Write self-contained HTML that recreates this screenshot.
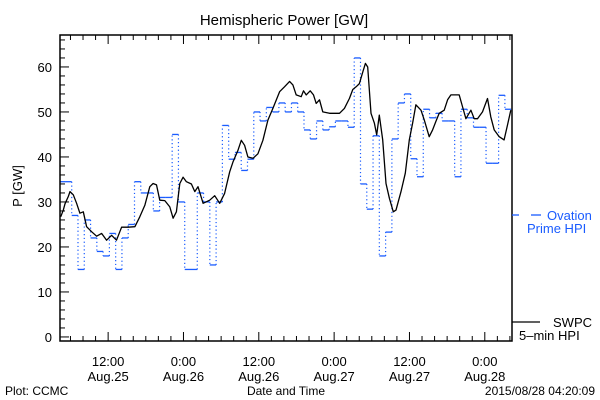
<!DOCTYPE html>
<html><head><meta charset="utf-8"><style>
html,body{margin:0;padding:0;background:#fff;}
svg{display:block;font-family:"Liberation Sans",sans-serif;}
</style></head><body>
<svg id="chart" width="600" height="400" viewBox="0 0 600 400" xmlns="http://www.w3.org/2000/svg">
<rect x="0" y="0" width="600" height="400" fill="#fff"/>
<text x="284" y="25" font-size="15" text-anchor="middle" fill="#000">Hemispheric Power [GW]</text>
<text x="0" y="0" font-size="13" text-anchor="middle" transform="translate(22,186) rotate(-90)">P [GW]</text>
<g id="ticks"></g>
<g id="series"></g>
<rect x="60" y="35" width="452" height="306" fill="none" stroke="#000" stroke-width="1.5"/>
<g>
<line x1="512" y1="215" x2="519" y2="215" stroke="#1a5cff" stroke-width="1.3"/>
<line x1="531" y1="215" x2="541" y2="215" stroke="#1a5cff" stroke-width="1.3"/>
<text x="547" y="220" font-size="13" fill="#1a5cff">Ovation</text>
<text x="527" y="233" font-size="13" fill="#1a5cff">Prime HPI</text>
</g>
<g>
<line x1="512" y1="322" x2="540" y2="322" stroke="#000" stroke-width="1.3"/>
<text x="553" y="327" font-size="13" fill="#000">SWPC</text>
<text x="519" y="340" font-size="13" fill="#000">5–min HPI</text>
</g>
<text x="5" y="395" font-size="12">Plot: CCMC</text>
<text x="286" y="395" font-size="12" text-anchor="middle">Date and Time</text>
<text x="595" y="395" font-size="12" text-anchor="end">2015/08/28 04:20:09</text>
</svg>
<script>
// hours since 2015-08-25 00:00
const xMin = 4.333, xMax = 76.333;
const yMin = -0.9, yMax = 67.1;
const yTicks = [0,10,20,30,40,50,60];
const xTickHours = [12,24,36,48,60,72];
const xTickTimes = ["12:00","0:00","12:00","0:00","12:00","0:00"];
const xTickDates = ["Aug.25","Aug.26","Aug.26","Aug.27","Aug.27","Aug.28"];
const ovationStart = 4.2;
const ovationValues = [34.5,34.5,27,15,26,22,19,18,23,15,22,25,34.5,32,32,28,31,31,45,30,15,15,32,30,16,30,47,39.5,41,37,39.5,50,48,51,50,52,50,52,50,46,44,48,46,46.7,48,48,46.6,62,34,28.4,44.7,18,23.3,44,52,54,39.6,35.6,50.6,48.7,49.7,48,48,35.6,50.6,48.7,46.6,46.6,38.6,38.6,53.7,50.6];
const swpcHours = [4.44,4.86,5.13,5.66,5.92,6.45,6.98,7.51,8.04,8.57,9.37,10.16,10.96,11.75,12.55,13.34,14.14,15.2,16.26,17.05,17.85,18.64,19.17,19.7,20.23,21.03,21.82,22.35,22.88,23.41,23.94,24.47,25.27,25.8,26.32,27.12,28.18,28.98,29.77,30.56,31.36,31.89,32.68,33.21,33.74,34.27,35.07,35.86,36.66,37.45,38.25,39.31,40.1,40.9,41.43,41.96,42.75,43.12,43.55,44.18,44.71,45.14,45.67,46.2,47.26,48.85,49.64,50.44,50.97,51.5,52.03,52.56,52.98,53.35,53.88,54.41,54.78,55.2,55.74,56.27,56.8,57.43,57.86,58.65,59.34,59.97,60.5,61.03,61.83,62.36,63.15,63.68,64.21,64.74,65.54,66.07,66.6,67.92,68.46,68.99,69.78,70.31,70.84,71.64,72.43,72.96,73.49,74.29,75.08,75.61,76.14];
const swpcValues = [26.7,28.2,29.6,31.2,32.3,31.6,29.7,27.5,27.8,24.5,23.4,22.4,23.0,21.5,22.6,21.5,24.4,24.4,24.5,26.7,29.3,33.4,34.1,33.8,30.4,30.3,28.9,26.4,27.8,34.1,35.5,34.5,34.0,32.3,33.4,29.7,30.4,31.4,29.7,31.9,36.7,38.9,41.5,43.7,42.6,40.0,39.7,40.7,43.7,48.2,50.8,54.5,55.6,56.8,56.0,53.8,53.4,54.7,53.8,54.7,53.8,51.9,52.7,50.0,49.7,49.7,50.8,53.0,55.0,55.6,56.3,58.9,60.8,60.0,49.7,47.5,44.9,49.3,43.8,34.1,30.8,27.8,28.2,32.3,36.4,43.8,47.5,51.6,50.4,48.2,44.5,46.0,47.9,49.7,50.4,52.7,53.8,53.8,51.1,48.5,50.4,48.5,48.5,50.0,53.0,48.9,46.0,44.5,43.8,47.1,50.4];

const L=60,R=512,T=35,B=341;
const sx=h=>L+(h-xMin)/(xMax-xMin)*(R-L);
const sy=v=>B-(v-yMin)/(yMax-yMin)*(B-T);
const NS="http://www.w3.org/2000/svg";
function mk(tag,attrs,parent){const e=document.createElementNS(NS,tag);for(const k in attrs)e.setAttribute(k,attrs[k]);parent.appendChild(e);return e;}
const tg=document.getElementById('ticks'), sg=document.getElementById('series');
// y ticks
for(let v=0;v<=66;v+=2){
  const major=v%10===0;
  const t=mk('line',{x1:L,x2:L+(major?9:5),y1:sy(v),y2:sy(v),stroke:'#000','stroke-width':1},tg);
  
  
}
yTicks.forEach(v=>{
  const t=mk('text',{x:L-8,y:sy(v)+5,'font-size':13,'text-anchor':'end'},tg);
  t.textContent=v;
  
  
});
// x ticks
for(let h=6;h<=76;h+=2){
  const major=h%12===0;
  const t=mk('line',{x1:sx(h),x2:sx(h),y1:B,y2:B-(major?9:5),stroke:'#000','stroke-width':1},tg);
  
  
  const t2=mk('line',{x1:sx(h),x2:sx(h),y1:T,y2:T+(major?9:5),stroke:'#000','stroke-width':1},tg);
  
  
}
xTickHours.forEach((h,i)=>{
  const a=mk('text',{x:sx(h),y:366,'font-size':13,'text-anchor':'middle'},tg);
  a.textContent=xTickTimes[i];
  
  
  const b=mk('text',{x:sx(h),y:381,'font-size':13,'text-anchor':'middle'},tg);
  b.textContent=xTickDates[i];
  
  
});
// ovation steps
const clip=h=>Math.max(xMin,Math.min(xMax,h));
ovationValues.forEach((v,i)=>{
  const h0=clip(ovationStart+i), h1=clip(ovationStart+i+1);
  if(h1>h0){
    const s=mk('line',{x1:sx(h0),x2:sx(h1),y1:sy(v),y2:sy(v),stroke:'#1a5cff','stroke-width':1.3},sg);
    
    
  }
  if(i>0){
    const hx=ovationStart+i;
    if(hx>xMin&&hx<xMax){
      const d=mk('line',{x1:sx(hx),x2:sx(hx),y1:sy(ovationValues[i-1]),y2:sy(v),stroke:'#1a5cff','stroke-width':1.2,'stroke-dasharray':'1.2,2.6'},sg);
      
      
    }
  }
});
// swpc line
const pts=swpcHours.map((h,i)=>sx(h).toFixed(1)+','+sy(swpcValues[i]).toFixed(1)).join(' ');
const pl=mk('polyline',{points:pts,fill:'none',stroke:'#000','stroke-width':1.3,'stroke-linejoin':'round'},sg);


</script>
</body></html>
